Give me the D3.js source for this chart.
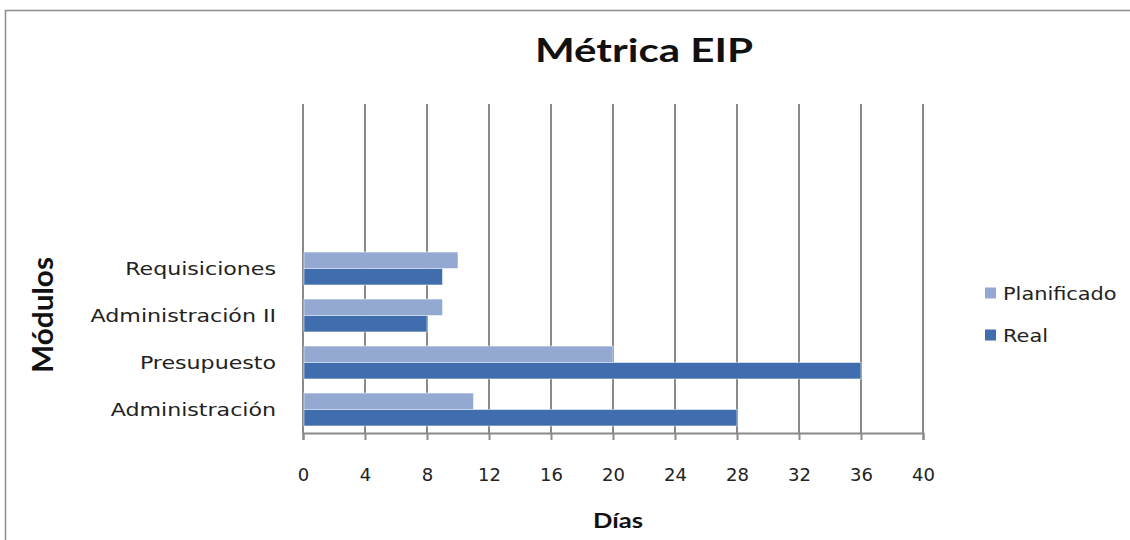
<!DOCTYPE html>
<html>
<head>
<meta charset="utf-8">
<script src="https://cdn.jsdelivr.net/npm/d3@7"></script>
<style>
  html, body { margin: 0; padding: 0; background: #fff; }
  svg { display: block; }
</style>
</head>
<body>
<svg id="chart" width="1130" height="540"></svg>
<script>
// Modules, bottom to top
const categories = ["Administración", "Presupuesto", "Administración II", "Requisiciones"];
const planificado = [11, 20, 9, 10];
const real = [28, 36, 8, 9];
const seriesNames = ["Planificado", "Real"];
const xTicks = [0, 4, 8, 12, 16, 20, 24, 28, 32, 36, 40];

const colors = { Planificado: "#93A9D1", Real: "#3F6DAE" };
const labelFont = "'DejaVu Sans', Verdana, sans-serif";
const titleFont = "Lato, 'Open Sans', sans-serif";

const svg = d3.select("#chart");

// Chart frame
svg.append("rect")
  .attr("x", 5.5).attr("y", 10.5)
  .attr("width", 1140).attr("height", 540)
  .attr("fill", "#fff").attr("stroke", "#8c8c8c").attr("stroke-width", 1.5);

const plot = { left: 303, right: 923, top: 104, bottom: 433 };

// Seven category slots; the upper three stay empty
const slots = 7;
const x = d3.scaleLinear().domain([0, 40]).range([plot.left, plot.right]);
const y = d3.scaleBand().domain(d3.range(slots)).range([plot.bottom, plot.top]).paddingInner(0.3).paddingOuter(0.15);
const inner = d3.scaleBand().domain(seriesNames).range([0, y.bandwidth()]);

// Vertical gridlines
svg.append("g").selectAll("line").data(xTicks).join("line")
  .attr("x1", d => x(d)).attr("x2", d => x(d))
  .attr("y1", plot.top).attr("y2", plot.bottom)
  .attr("stroke", "#8a8a8a").attr("stroke-width", 2);

// Bars
const rows = categories.map((c, i) => ({ c, i, Planificado: planificado[i], Real: real[i] }));
const g = svg.append("g");
rows.forEach(r => {
  seriesNames.forEach(s => {
    g.append("rect")
      .attr("x", x(0) + 1)
      .attr("y", y(r.i) + inner(s))
      .attr("width", x(r[s]) - x(0) - 1)
      .attr("height", inner.bandwidth())
      .attr("fill", colors[s])
      .attr("stroke", "#ffffff").attr("stroke-opacity", 0.5).attr("stroke-width", 1);
  });
});

// X axis
const xAxis = svg.append("g")
  .attr("transform", `translate(0,${plot.bottom})`)
  .call(d3.axisBottom(x).tickValues(xTicks).tickSize(7).tickPadding(28));
xAxis.select(".domain").attr("stroke", "#8a8a8a").attr("stroke-width", 2);
xAxis.selectAll(".tick line").attr("stroke", "#8a8a8a").attr("stroke-width", 2);
xAxis.selectAll("text").attr("font-family", labelFont).attr("font-size", 18).attr("fill", "#222");

// Category labels (slightly widened type)
svg.append("g")
  .attr("transform", "translate(276,0) scale(1.23,1)")
  .selectAll("text").data(rows).join("text")
  .attr("x", 0)
  .attr("y", d => y(d.i) + y.bandwidth() / 2 + 7)
  .attr("text-anchor", "end")
  .attr("font-family", labelFont).attr("font-size", 18).attr("fill", "#222")
  .text(d => d.c);

// Titles
svg.append("text")
  .attr("x", 644).attr("y", 62)
  .attr("text-anchor", "middle")
  .attr("textLength", 218).attr("lengthAdjust", "spacingAndGlyphs")
  .attr("font-family", titleFont).attr("font-weight", "bold").attr("font-size", 32).attr("fill", "#111")
  .text("Métrica EIP");

svg.append("text")
  .attr("x", 618).attr("y", 528)
  .attr("text-anchor", "middle")
  .attr("textLength", 50).attr("lengthAdjust", "spacingAndGlyphs")
  .attr("font-family", titleFont).attr("font-weight", "bold").attr("font-size", 21).attr("fill", "#111")
  .text("Días");

svg.append("text")
  .attr("transform", "translate(53,315) rotate(-90)")
  .attr("text-anchor", "middle")
  .attr("textLength", 116).attr("lengthAdjust", "spacingAndGlyphs")
  .attr("font-family", titleFont).attr("font-weight", "bold").attr("font-size", 28).attr("fill", "#111")
  .text("Módulos");

// Legend
const legend = svg.append("g").attr("transform", "translate(985,293)");
seriesNames.forEach((s, i) => {
  const row = legend.append("g").attr("transform", `translate(0,${i * 42})`);
  row.append("rect").attr("x", 0).attr("y", -5.5).attr("width", 11).attr("height", 11).attr("fill", colors[s]);
  row.append("text")
    .attr("transform", "translate(18,6.5) scale(1.16,1)")
    .attr("font-family", labelFont).attr("font-size", 18).attr("fill", "#222")
    .text(s);
});
</script>
</body>
</html>
